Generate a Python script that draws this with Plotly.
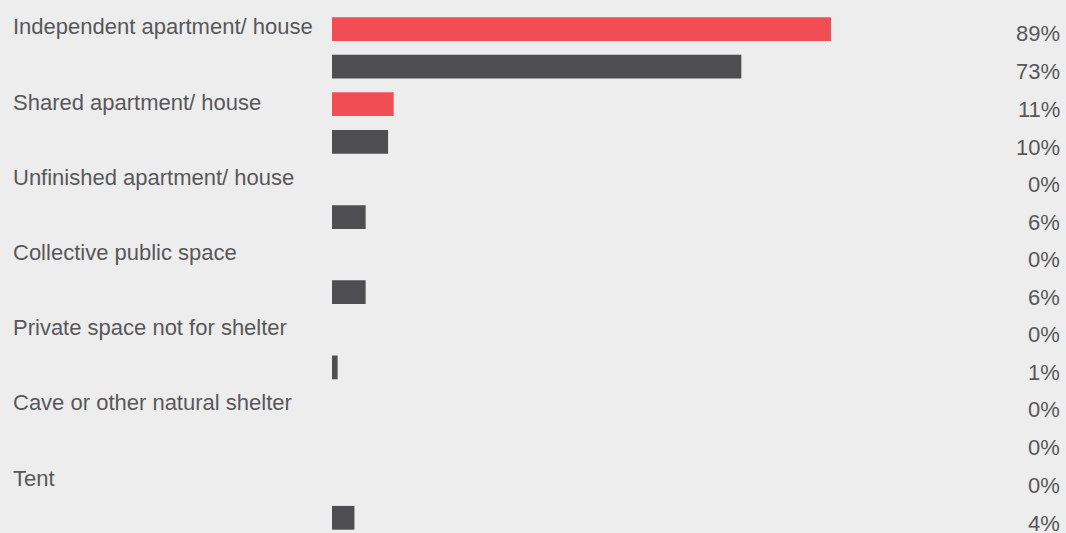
import plotly.graph_objects as go

categories = [
    "Independent apartment/ house",
    "Shared apartment/ house",
    "Unfinished apartment/ house",
    "Collective public space",
    "Private space not for shelter",
    "Cave or other natural shelter",
    "Tent",
]
red_values = [89, 11, 0, 0, 0, 0, 0]
dark_values = [73, 10, 6, 6, 1, 0, 4]

RED = "#f04e54"
DARK = "#4e4e50"
TEXT = "#58585a"
BG = "#ededed"
FONT = "Liberation Sans, Arial, sans-serif"

fig = go.Figure()
fig.add_trace(go.Bar(y=categories, x=red_values, orientation="h",
                     marker=dict(color=RED, line=dict(width=0)), hoverinfo="skip"))
fig.add_trace(go.Bar(y=categories, x=dark_values, orientation="h",
                     marker=dict(color=DARK, line=dict(width=0)), hoverinfo="skip"))

annotations = []
for i, c in enumerate(categories):
    annotations.append(dict(
        xref="paper", yref="y", x=(11 - 332) / 734, y=c, xanchor="left", yanchor="middle",
        yshift=21, text=c, showarrow=False, font=dict(family=FONT, size=22, color=TEXT)))
    for val, shift in ((red_values[i], 19), (dark_values[i], -19)):
        annotations.append(dict(
            xref="paper", yref="y", x=1, y=c, xanchor="right", yanchor="middle",
            xshift=-4, yshift=shift - 5, text=f"{val}%", showarrow=False,
            font=dict(family=FONT, size=22, color=TEXT)))

fig.update_layout(
    width=1066, height=533,
    margin=dict(l=332, r=0, t=0, b=0),
    paper_bgcolor=BG, plot_bgcolor=BG,
    barmode="group", bargap=0, bargroupgap=0.368,
    showlegend=False,
    xaxis=dict(range=[0, 734 / 5.607], visible=False, fixedrange=True),
    yaxis=dict(categoryorder="array", categoryarray=categories,
               range=[6.452, -0.636], visible=False, fixedrange=True),
    annotations=annotations,
)

fig.write_html("out.html", config={"displayModeBar": False})
